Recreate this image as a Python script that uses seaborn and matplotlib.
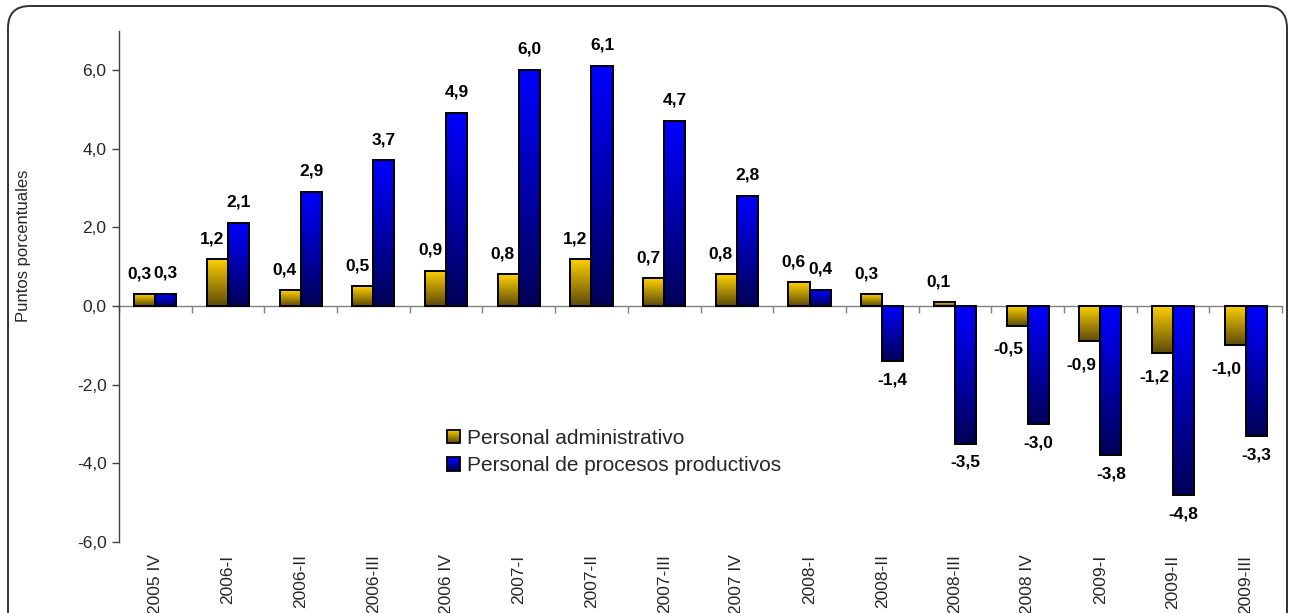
import matplotlib

matplotlib.use("Agg")
import matplotlib.pyplot as plt
import numpy as np
import pandas as pd
import seaborn as sns
from matplotlib.colors import LinearSegmentedColormap
from matplotlib.legend_handler import HandlerBase
from matplotlib.patches import FancyBboxPatch, Rectangle
from matplotlib.ticker import FixedLocator, FuncFormatter
from matplotlib.transforms import IdentityTransform

periods = [
    "2005 IV", "2006-I", "2006-II", "2006-III", "2006 IV", "2007-I", "2007-II", "2007-III",
    "2007 IV", "2008-I", "2008-II", "2008-III", "2008 IV", "2009-I", "2009-II", "2009-III",
]
admin = [0.3, 1.2, 0.4, 0.5, 0.9, 0.8, 1.2, 0.7, 0.8, 0.6, 0.3, 0.1, -0.5, -0.9, -1.2, -1.0]
prod = [0.3, 2.1, 2.9, 3.7, 4.9, 6.0, 6.1, 4.7, 2.8, 0.4, -1.4, -3.5, -3.0, -3.8, -4.8, -3.3]
series = ["Personal administrativo", "Personal de procesos productivos"]
y_ticks = [-6, -4, -2, 0, 2, 4, 6]

GOLD = LinearSegmentedColormap.from_list("gold", ["#5E4A0A", "#FFD200"])
BLUE = LinearSegmentedColormap.from_list("blue", ["#000058", "#0000FF"])
CMAPS = [GOLD, BLUE]


class GradientBox(HandlerBase):
    def __init__(self, cmap):
        super().__init__()
        self.cmap = cmap

    def create_artists(self, legend, orig_handle, xdescent, ydescent, width, height, fontsize, trans):
        x0, y0 = -xdescent, -ydescent
        n = 14
        arts = []
        for i in range(n):
            arts.append(Rectangle((x0, y0 + height * i / n), width, height / n + 0.2,
                                  facecolor=self.cmap(i / (n - 1)), edgecolor="none", transform=trans))
        arts.append(Rectangle((x0, y0), width, height, facecolor="none", edgecolor="black",
                              linewidth=1.3, transform=trans))
        return arts


def fmt_comma(v, _pos=None):
    return f"{v:.1f}".replace(".", ",")


def main() -> None:
    sns.set_style("white")
    plt.rcParams["font.family"] = ["Liberation Sans", "DejaVu Sans"]

    df = pd.DataFrame({
        "period": periods * 2,
        "serie": [series[0]] * len(periods) + [series[1]] * len(periods),
        "valor": admin + prod,
    })

    fig = plt.figure(figsize=(12.89, 6.13), dpi=100)
    ax = fig.add_axes([119 / 1289, 71 / 613, 1163 / 1289, 511.5 / 613])
    sns.barplot(data=df, x="period", y="valor", hue="serie", order=periods, hue_order=series,
                palette=["#FFD200", "#0000FF"], width=0.58, gap=0, legend=False, ax=ax)

    ymin, ymax = -6, 7
    # gradient fill, bright at top, dark at bottom
    for cont, cmap in zip(ax.containers, CMAPS):
        for bar in cont:
            x, w = bar.get_x(), bar.get_width()
            y, h = bar.get_y(), bar.get_height()
            lo, hi = min(y, y + h), max(y, y + h)
            grad = np.linspace(1, 0, 100).reshape(-1, 1)
            ax.imshow(grad, extent=[x, x + w, lo, hi], aspect="auto", cmap=cmap,
                      vmin=0, vmax=1, zorder=2, interpolation="bilinear")
            bar.set_facecolor("none")
            bar.set_edgecolor("black")
            bar.set_linewidth(1.4)
            bar.set_zorder(3)

    # value labels
    for i, (cont, vals) in enumerate(zip(ax.containers, [admin, prod])):
        for bar, v in zip(cont, vals):
            cx = bar.get_x() + bar.get_width() / 2
            if i == 0:
                off = (-4, 14.5) if v >= 0 else (-6, -17)
            else:
                off = (0, 15) if v >= 0 else (0, -13.5)
            ax.annotate(fmt_comma(v), (cx, v), xytext=off, textcoords="offset points",
                        ha="center", va="center", fontsize=12.5, fontweight="bold", color="black")

    ax.set_xlim(-0.5, len(periods) - 0.5)
    ax.set_ylim(ymin, ymax)

    for side in ["top", "right", "bottom"]:
        ax.spines[side].set_visible(False)
    ax.spines["left"].set_color("#404040")
    ax.spines["left"].set_linewidth(1.0)

    ax.yaxis.set_major_locator(FixedLocator(y_ticks))
    ax.yaxis.set_major_formatter(FuncFormatter(fmt_comma))
    ax.tick_params(axis="y", direction="out", length=5, width=1, color="#404040",
                   labelsize=12.5, pad=4, left=True)
    ax.set_xticks(range(len(periods)))
    ax.set_xticklabels(periods, rotation=90, fontsize=12.5)
    ax.tick_params(axis="x", length=0, pad=9)
    ax.set_xlabel("")
    ax.set_ylabel("Puntos porcentuales", fontsize=12)
    ax.yaxis.set_label_coords(-0.0757, 0.58)

    # zero line with ticks between groups
    zero = ax.secondary_xaxis((0 - ymin) / (ymax - ymin))
    zero.set_xticks(np.arange(-0.5, len(periods), 1.0))
    zero.set_xticklabels([])
    zero.tick_params(axis="x", direction="out", length=5, width=1, color="#808080")
    for sp in zero.spines.values():
        sp.set_color("#808080")
        sp.set_linewidth(1.0)

    proxies = [Rectangle((0, 0), 1, 1), Rectangle((0, 0), 1, 1)]
    ax.legend(proxies, series, handler_map={proxies[0]: GradientBox(GOLD), proxies[1]: GradientBox(BLUE)},
              loc="upper left", bbox_to_anchor=(432 / 1289, 1 - 414 / 613), bbox_transform=fig.transFigure,
              frameon=False, fontsize=15, handlelength=0.62, handleheight=0.62, handletextpad=0.35,
              labelspacing=0.42, borderpad=0.2)

    frame = FancyBboxPatch((8, -30), 1279, 613 - 6 + 30, boxstyle="round,pad=0,rounding_size=22",
                           transform=IdentityTransform(), facecolor="none", edgecolor="#303030",
                           linewidth=1.4)
    fig.patches.append(frame)

    fig.savefig("out.png", dpi=100)
    plt.close(fig)


if __name__ == "__main__":
    main()
